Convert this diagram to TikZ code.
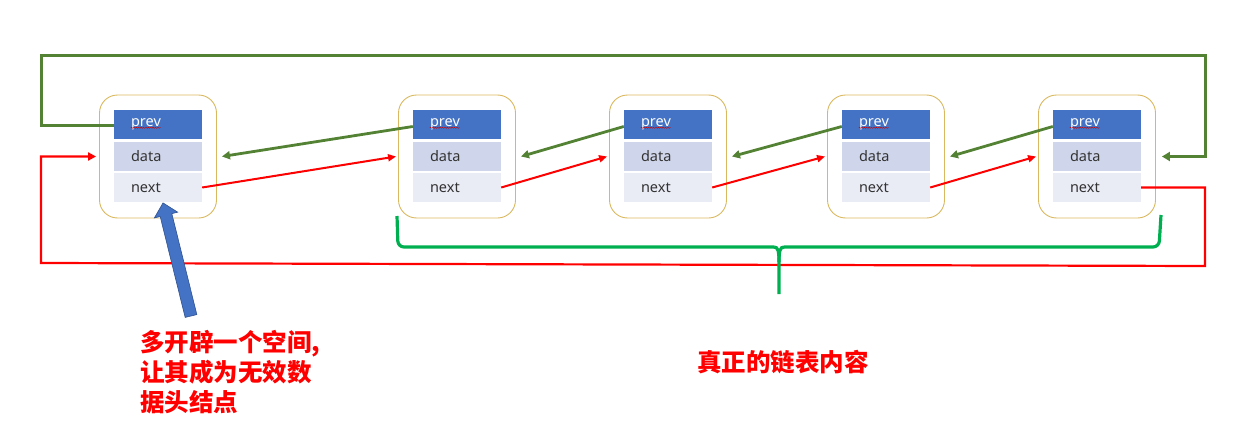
\documentclass[tikz,border=0pt]{standalone}
\usepackage{fontspec}
\setmainfont{Noto Sans}
\newfontfamily\cjk{Noto Sans CJK SC}
\usetikzlibrary{arrows.meta,decorations.pathmorphing}
\definecolor{prevblue}{HTML}{4472C4}
\definecolor{datafill}{HTML}{CFD5EA}
\definecolor{nextfill}{HTML}{E9EBF5}
\definecolor{boxgold}{HTML}{D9B85F}
\definecolor{lgreen}{HTML}{548235}
\definecolor{bgreen}{HTML}{00B050}
\definecolor{blueedge}{HTML}{2F528F}
\definecolor{txtgray}{HTML}{333333}
\tikzset{
  lbox/.style={draw=boxgold, line width=0.9pt, rounded corners=18pt, minimum width=117pt, minimum height=123pt, inner sep=0pt},
  cell/.style={minimum width=88pt, minimum height=29pt, inner xsep=17pt, inner ysep=0pt, text width=54pt, align=left, font=\fontsize{14.5}{14.5}\selectfont, text=txtgray},
  garrow/.style={draw=lgreen, line width=2.8pt, -{Triangle[length=8pt,width=8pt]}},
  rarrow/.style={draw=red, line width=2pt, -{Triangle[length=8pt,width=7pt]}},
  gloop/.style={draw=lgreen, line width=3pt, -{Triangle[length=8pt,width=9pt]}},
  rloop/.style={draw=red, line width=2.2pt, -{Triangle[length=8pt,width=8pt]}},
  brace/.style={draw=bgreen, line width=3.2pt},
  squig/.style={draw=red!80!black, line width=0.4pt, decorate, decoration={snake, amplitude=0.6pt, segment length=2.4pt}},
  cjktext/.style={text=red, inner sep=0pt, font=\cjk\bfseries\fontsize{24.5}{30}\selectfont, align=left}
}
\newcommand\listnode[2]{%
  \node[lbox] (#1) at (#2+44,156.5) {};
  \node[cell, fill=prevblue, text=white] (#1p) at (#2+44,124.5) {prev};
  \node[cell, fill=datafill] (#1d) at (#2+44,156.5) {data};
  \node[cell, fill=nextfill] (#1n) at (#2+44,187.5) {next};
  \draw[squig] ([xshift=17pt,yshift=-1pt]#1p.base west) -- ++(30,0);
}
\begin{document}
\begin{tikzpicture}[x=1pt,y=-1pt]
\useasboundingbox (0,0) rectangle (1253,439);
\listnode{n1}{114}
\listnode{n2}{413}
\listnode{n3}{624}
\listnode{n4}{842}
\listnode{n5}{1053}
% prev arrows (green)
\draw[garrow] ([yshift=-2pt]n2p.west) -- ([xshift=5pt]n1.east |- n1d.center);
\draw[garrow] ([yshift=-2pt]n3p.west) -- ([xshift=5pt]n2.east |- n2d.center);
\draw[garrow] ([yshift=-2pt]n4p.west) -- ([xshift=5pt]n3.east |- n3d.center);
\draw[garrow] ([yshift=-2pt]n5p.west) -- ([xshift=5pt]n4.east |- n4d.center);
% next arrows (red)
\draw[rarrow] (n1n.east) -- ([xshift=-2pt]n2.west |- n2d.center);
\draw[rarrow] (n2n.east) -- ([xshift=-2pt]n3.west |- n3d.center);
\draw[rarrow] (n3n.east) -- ([xshift=-2pt]n4.west |- n4d.center);
\draw[rarrow] (n4n.east) -- ([xshift=-2pt]n5.west |- n5d.center);
% outer loops
\coordinate (tl) at (41,55);
\coordinate (tr) at (1205,55);
\coordinate (br) at (1205,266);
\coordinate (bl) at (41,263);
\draw[gloop] ([yshift=-1pt]n1p.west) -| (tl) -- (tr) |- ([xshift=6pt]n5.east |- n5d.center);
\draw[rloop] (n5n.east) -| (br) -- (bl) |- ([xshift=-3pt]n1.west |- n1d.center);
% brace
\draw[brace, rounded corners=6pt] (397,216) -- (398,247) -- (774,247);
\draw[brace] (774,247) .. controls (778,247) and (779,251) .. (779,262) -- (779,294);
\draw[brace, rounded corners=6pt] (1161,215) -- (1159,247) -- (784,247);
\draw[brace] (784,247) .. controls (780,247) and (779,251) .. (779,262);
% blue pointer arrow
\begin{scope}[shift={(191,316)}, rotate=103.9]
\filldraw[fill=prevblue, draw=blueedge, line width=0.6pt]
  (0,-6) -- (104,-6) -- (104,-12) -- (116.5,0) -- (104,12) -- (104,6) -- (0,6) -- cycle;
\end{scope}
% texts
\node[cjktext, anchor=north west] (note) at (140,330) {多开辟一个空间,\\让其成为无效数\\据头结点};
\node[cjktext, anchor=north west] (real) at (697,350) {真正的链表内容};
\end{tikzpicture}
\end{document}
